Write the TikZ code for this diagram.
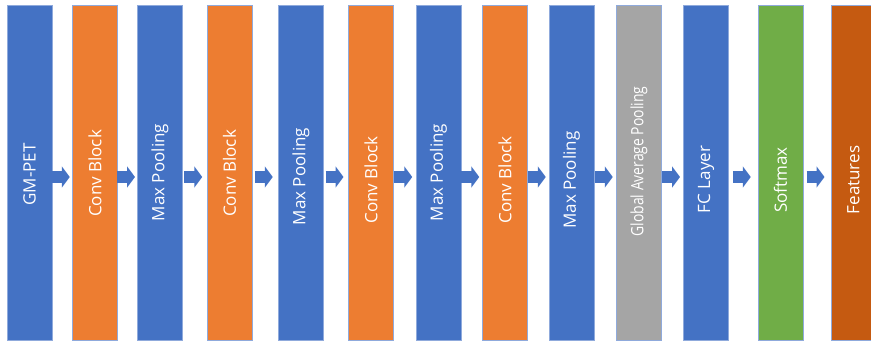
\documentclass[tikz,border=0pt]{standalone}
\usepackage{fontspec}
\setmainfont{Open Sans}
\usetikzlibrary{arrows.meta,calc}
\definecolor{cblue}{HTML}{4472C4}
\definecolor{corange}{HTML}{ED7D31}
\definecolor{cgray}{HTML}{A5A5A5}
\definecolor{cgreen}{HTML}{70AD47}
\definecolor{cdark}{HTML}{C55A11}
\definecolor{cedge}{HTML}{8FAADC}
\tikzset{
  bar/.style={draw=cedge, line width=0.8pt, minimum width=45pt, minimum height=335pt,
    inner sep=0pt, text=white, font=\fontsize{17}{20}\selectfont},
  flow/.style={draw=cblue, line width=12.5pt,
    -{Triangle[length=8pt,width=21pt]}},
}
% optional arg: text moves down by half of minus this amount
\newcommand{\vtext}[2][0pt]{\rotatebox{90}{\hspace*{#1}#2}}
\begin{document}
\begin{tikzpicture}[x=1pt,y=-1pt]
\useasboundingbox (0,0) rectangle (871,342);
\clip (0,0) rectangle (871,342);
\node[bar, fill=cblue]   (b1)  at (29.5,172.5)  {\vtext[-4pt]{GM-PET}};
\node[bar, fill=corange] (b2)  at (95,172.5)    {\vtext[-2pt]{Conv Block}};
\node[bar, fill=cblue]   (b3)  at (160,172.5)   {\vtext[0pt]{Max Pooling}};
\node[bar, fill=corange] (b4)  at (229.5,172.5) {\vtext[-2pt]{Conv Block}};
\node[bar, fill=cblue]   (b5)  at (301,172.5)   {\vtext[-8pt]{Max Pooling}};
\node[bar, fill=corange] (b6)  at (371,172.5)   {\vtext[-15pt]{Conv Block}};
\node[bar, fill=cblue]   (b7)  at (438.5,172.5) {\vtext[0pt]{Max Pooling}};
\node[bar, fill=corange] (b8)  at (505,172.5)   {\vtext[-15pt]{Conv Block}};
\node[bar, fill=cblue]   (b9)  at (571.5,172.5) {\vtext[-15pt]{Max Pooling}};
\node[bar, fill=cgray] (b10) at (639,172.5) {\vtext[22pt]{\scalebox{0.82}[1]{Global Average Pooling}}};
\node[bar, fill=cblue]   (b11) at (706,172.5)   {\vtext[-14pt]{FC Layer}};
\node[bar, fill=cgreen]  (b12) at (780.5,172.5) {\vtext[-15pt]{Softmax}};
\node[bar, fill=cdark]   (b13) at (853.5,172.5) {\vtext[-15pt]{Features}};
\foreach \a/\b in {b1/b2,b2/b3,b3/b4,b4/b5,b5/b6,b6/b7,b7/b8,b8/b9,b9/b10,b10/b11,b11/b12,b12/b13}{
  \draw[flow] ($(\a.east)!0.5!(\b.west)+(-10.5,4.5)$) -- ++(18,0);
}
\end{tikzpicture}
\end{document}
